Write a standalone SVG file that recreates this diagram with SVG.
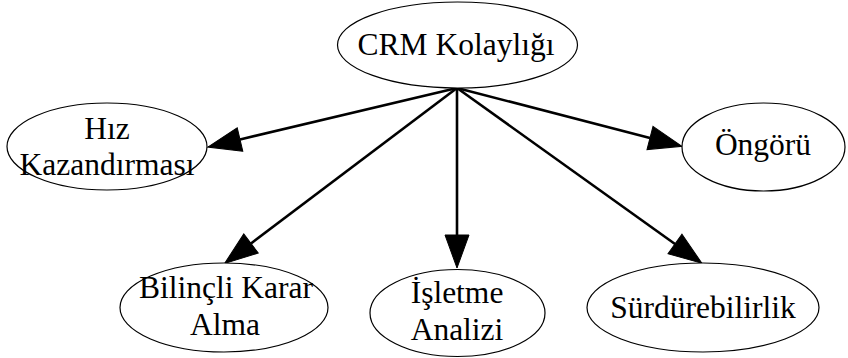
<svg xmlns="http://www.w3.org/2000/svg" width="848" height="358" viewBox="0 0 848 358">
<style>
.node ellipse{fill:#fff;stroke:#000;stroke-width:1.2}
.node text{font-family:"Liberation Serif","Times New Roman",serif;font-size:31.5px;fill:#000;text-anchor:middle}
.edge{stroke:#000;stroke-width:2.6;fill:none}
</style>
<defs>
<marker id="ah" viewBox="0 -12 33 24" refX="0" refY="0" markerWidth="33" markerHeight="24" markerUnits="userSpaceOnUse" orient="auto" overflow="visible">
<path d="M0,-12 L33,0 L0,12 z" fill="#000" stroke="#000" stroke-width="1"/>
</marker>
</defs>
<rect width="848" height="358" fill="#fff"/>
<g id="edges">
<line class="edge" x1="457" y1="88" x2="240" y2="139.5" marker-end="url(#ah)"/>
<line class="edge" x1="457" y1="88" x2="650" y2="138" marker-end="url(#ah)"/>
<line class="edge" x1="457" y1="88" x2="251" y2="243.5" marker-end="url(#ah)"/>
<line class="edge" x1="457" y1="88" x2="457" y2="235" marker-end="url(#ah)"/>
<line class="edge" x1="457" y1="88" x2="675" y2="244" marker-end="url(#ah)"/>
</g>
<g id="crm" class="node">
<ellipse cx="457.5" cy="45" rx="120" ry="43"/>
<text x="456" y="55">CRM Kolaylığı</text>
</g>
<g id="hiz" class="node">
<ellipse cx="107" cy="146.5" rx="100" ry="43.5"/>
<text x="107" y="139">Hız</text>
<text x="107" y="175">Kazandırması</text>
</g>
<g id="ongoru" class="node">
<ellipse cx="763.5" cy="147" rx="81.5" ry="44"/>
<text x="763" y="155">Öngörü</text>
</g>
<g id="bilincli" class="node">
<ellipse cx="224" cy="307.5" rx="104" ry="44.5"/>
<text x="226" y="298">Bilinçli Karar</text>
<text x="225" y="335">Alma</text>
</g>
<g id="isletme" class="node">
<ellipse cx="457.5" cy="313" rx="87.5" ry="43.5"/>
<text x="457" y="303">İşletme</text>
<text x="457" y="340">Analizi</text>
</g>
<g id="surdurebilirlik" class="node">
<ellipse cx="703" cy="307.5" rx="116" ry="44.5"/>
<text x="703" y="318">Sürdürebilirlik</text>
</g>
</svg>
